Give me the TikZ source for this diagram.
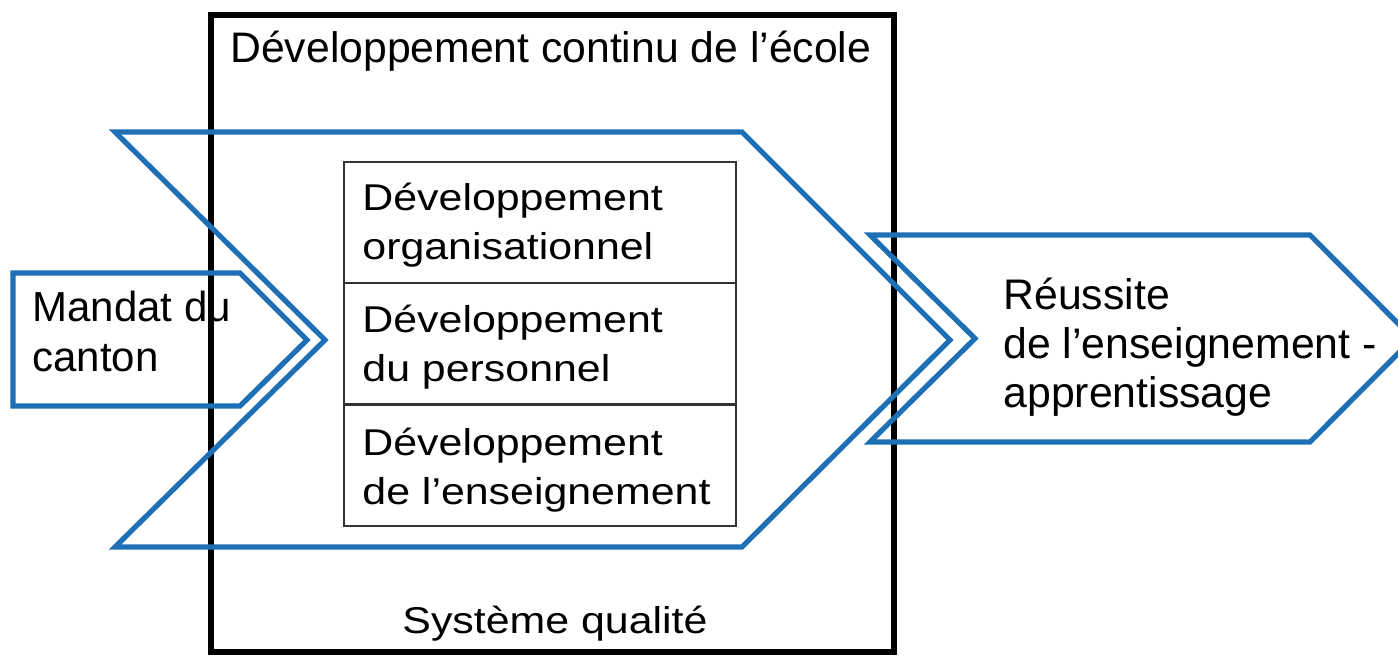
\documentclass[tikz,border=0pt]{standalone}
\usepackage{fontspec}
\setmainfont{Liberation Sans}
\newfontfamily\sqfont{Liberation Sans}[FakeStretch=1.15]
\definecolor{chevblue}{RGB}{30,111,182}
\begin{document}
\begin{tikzpicture}[x=0.5pt,y=-0.5pt,
  chev/.style={draw=chevblue, line width=2.6pt, line join=miter},
  frameline/.style={draw=black, line width=3.3pt},
  subbox/.style={draw=black!80, line width=0.8pt, minimum width=196pt, minimum height=60.5pt, inner sep=0pt, anchor=north west},
  bigtxt/.style={inner sep=0pt, anchor=base west, align=left, font=\fontsize{21.35pt}{24.75pt}\selectfont},
  sqtxt/.style={inner sep=0pt, anchor=base west, align=left, font=\sqfont\fontsize{18.65pt}{24.75pt}\selectfont}]
\useasboundingbox (0,0) rectangle (1398,656);
% texts lying under the frame (base anchor = baseline of the last line)
\node[bigtxt, font=\fontsize{21pt}{25pt}\selectfont] (mandat) at (32,372) {Mandat du\\canton};
\node[bigtxt, font=\fontsize{21.4pt}{24.5pt}\selectfont] (reussite) at (1003,408) {Réussite\\de l’enseignement -\\apprentissage};
\node[bigtxt] (title) at (230,63) {Développement continu de l’école};
\node[sqtxt] (qualite) at (402,634) {Système qualité};
% inner boxes
\node[subbox] (b1) at (343,161) {};
\node[subbox] (b2) at (343,282) {};
\node[subbox] (b3) at (343,404) {};
\node[sqtxt] (t1) at (362,260) {Développement\\organisationnel};
\node[sqtxt] (t2) at (362,381.7) {Développement\\du personnel};
\node[sqtxt] (t3) at (362,505) {Développement\\de l’enseignement};
% frame
\draw[frameline] (211,15) rectangle (894,652);
% chevrons
\draw[chev] (115,132) -- (742,132) -- (950,340) -- (742,547) -- (115,547) -- (325,340) -- cycle;
\draw[chev] (13,273) -- (240,273) -- (307,340) -- (240,406) -- (13,406) -- cycle;
\draw[chev] (870,235) -- (1310,235) -- (1413,338.5) -- (1310,442) -- (870,442) -- (975,338.5) -- cycle;
\end{tikzpicture}
\end{document}
